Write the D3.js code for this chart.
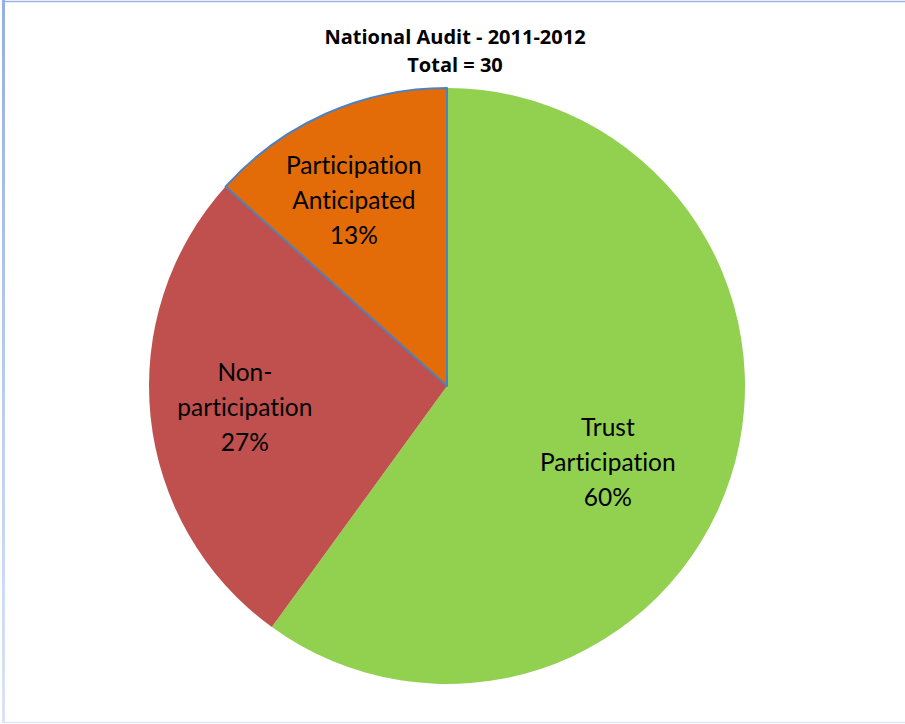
<!DOCTYPE html>
<html>
<head>
<meta charset="utf-8">
<script src="https://cdn.jsdelivr.net/npm/d3@7"></script>
<style>
  html, body { margin: 0; padding: 0; background: #fff; }
  svg { display: block; }
  text { font-variant-ligatures: none; }
</style>
</head>
<body>
<svg id="chart" width="905" height="724"></svg>
<script>
// Audit participation counts (total = 30)
const categories = ["Trust Participation", "Non-participation", "Participation Anticipated"];
const counts = [18, 8, 4];
const percentLabels = ["60%", "27%", "13%"];
const labelLines = [["Trust", "Participation"], ["Non-", "participation"], ["Participation", "Anticipated"]];
const colors = ["#92d050", "#c0504d", "#e36c09"];
const titleLines = ["National Audit - 2011-2012", "Total = 30"];

const svg = d3.select("#chart");
const W = 905, H = 724;
const cx = 447, cy = 386, radius = 298;
const font = "Lato, 'Open Sans', sans-serif";

// chart frame
const grad = svg.append("defs").append("linearGradient")
  .attr("id", "frameFade").attr("x1", 0).attr("y1", 0).attr("x2", 0).attr("y2", 1);
grad.append("stop").attr("offset", "0%").attr("stop-color", "#94b0e2");
grad.append("stop").attr("offset", "100%").attr("stop-color", "#dbe4f5");
svg.append("rect").attr("x", 2).attr("y", 0).attr("width", 3).attr("height", H - 1).attr("fill", "url(#frameFade)");
svg.append("line").attr("x1", 2).attr("x2", W).attr("y1", 1.5).attr("y2", 1.5)
  .attr("stroke", "#9bb2e3").attr("stroke-width", 1.5);
svg.append("line").attr("x1", 2).attr("x2", W).attr("y1", 722.5).attr("y2", 722.5)
  .attr("stroke", "#dfe6f6").attr("stroke-width", 1.5);

// title
svg.append("g").selectAll("text").data(titleLines).join("text")
  .attr("x", 455).attr("y", (d, i) => 44 + i * 28)
  .attr("text-anchor", "middle")
  .attr("font-family", "'Open Sans', sans-serif").attr("font-weight", "bold").attr("font-size", 20)
  .attr("fill", "#000").text(d => d);

// pie
const pie = d3.pie().sort(null).value(d => d)(counts);
const arc = d3.arc().innerRadius(0).outerRadius(radius);
const g = svg.append("g").attr("transform", `translate(${cx},${cy})`);

g.selectAll("path").data(pie).join("path")
  .attr("d", arc)
  .attr("fill", (d, i) => colors[i])
  .attr("stroke", (d, i) => i === 2 ? "#4f81bd" : "none")
  .attr("stroke-width", 2)
  .attr("stroke-linejoin", "round");

// slice labels, placed near each slice's bisector
const labelRadius = [0.597, 0.682, 0.698];
const labelTurn = [7.3, 0, -2.6]; // degrees off the bisector
pie.forEach((d, i) => {
  const a = (d.startAngle + d.endAngle) / 2 + labelTurn[i] * Math.PI / 180;
  const r = radius * labelRadius[i];
  const lx = r * Math.sin(a), ly = -r * Math.cos(a);
  const lines = labelLines[i].concat([percentLabels[i]]);
  const t = g.append("text")
    .attr("text-anchor", "middle")
    .attr("font-family", font).attr("font-size", 24.5).attr("fill", "#000");
  lines.forEach((s, k) => {
    t.append("tspan").attr("x", lx).attr("y", ly + (k - 1) * 35 + 9).text(s);
  });
});
</script>
</body>
</html>
